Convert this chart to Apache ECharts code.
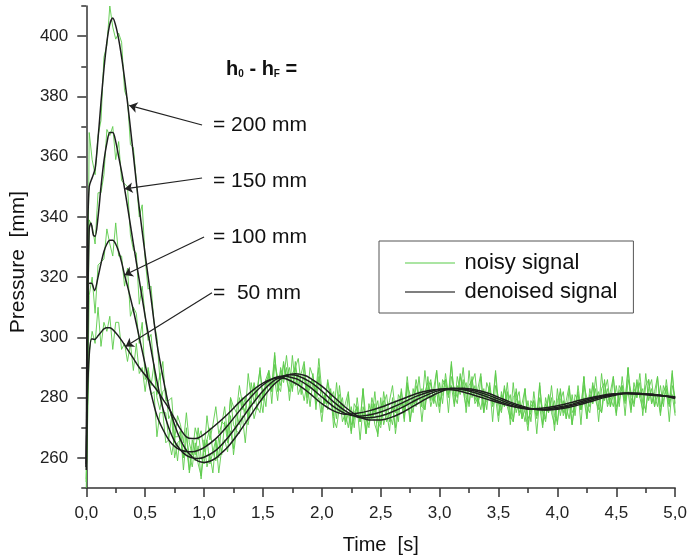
<!DOCTYPE html>
<html><head><meta charset="utf-8">
<script src="https://cdn.jsdelivr.net/npm/echarts@6/dist/echarts.min.js"></script>
<style>html,body{margin:0;padding:0;background:#fff}#c{width:690px;height:560px}</style>
</head><body><div id="c"></div>
<script>
// sampling step (s) of the noisy signals
const tStep = 0.025;

const noisy200 = [252,368,359,354,367,372,393,397,410,403,
 399,401,398,382,379,364,363,352,340,344,
 326,316,317,305,300,286,292,279,279,280,
 267,267,269,256,267,261,257,265,258,254,
 266,257,261,255,266,255,263,266,262,274,
 261,269,268,274,265,276,279,273,277,275,
 283,277,288,282,286,279,290,286,294,285,
 283,290,293,284,287,280,290,287,282,293,
 282,278,286,280,282,273,284,275,278,282,
 271,273,277,266,277,273,270,278,271,268,
 280,271,275,269,280,268,276,278,273,285,
 272,279,277,282,272,282,285,277,281,277,
 285,278,288,281,284,277,287,282,290,280,
 278,285,288,278,282,275,285,282,278,289,
 278,275,283,278,281,272,283,275,278,283,
 273,275,279,268,280,276,273,281,275,271,
 283,274,279,273,283,271,278,281,276,287,
 273,281,278,283,272,283,285,277,280,277,
 284,277,287,279,282,275,285,280,288,278,
 276,283,286,277,281,274,284,281,277,288,
 278];

const noisy150 = [250,339,337,331,348,348,354,369,367,370,
 359,365,352,351,350,334,329,328,311,317,
 307,299,301,290,281,288,275,275,266,274,
 260,265,266,260,270,255,262,259,264,253,
 263,266,258,262,259,267,261,272,265,269,
 263,275,271,280,272,271,279,284,276,281,
 275,286,285,282,294,284,282,291,287,290,
 282,292,284,288,292,282,283,288,276,287,
 282,278,285,279,274,285,275,278,272,281,
 269,275,277,272,283,268,275,273,278,267,
 277,279,272,275,271,279,272,283,275,279,
 272,283,278,287,277,276,283,286,278,282,
 275,286,284,280,291,281,278,287,282,285,
 277,287,279,283,288,277,279,284,272,284,
 280,276,284,277,273,285,275,279,273,283,
 271,277,279,274,285,271,278,275,280,269,
 279,282,274,277,273,281,274,284,276,280,
 273,283,278,287,277,275,282,286,277,281,
 274,284,282,278,290,280,277,285,280,283,
 275,286,278,282,287,277,279,283,272,284,
 280];

const noisy100 = [253,314,320,308,324,325,326,336,331,327,
 338,327,327,317,323,307,310,308,298,305,
 286,289,281,282,267,275,275,265,266,261,
 267,259,269,260,263,256,266,261,270,260,
 258,266,270,262,266,260,272,271,268,280,
 271,269,280,276,280,273,285,278,283,289,
 280,283,289,278,291,287,284,292,286,282,
 294,284,288,281,291,278,285,286,280,290,
 275,281,278,282,270,279,281,272,275,270,
 277,270,280,272,275,268,278,273,282,272,
 270,278,281,272,277,270,281,279,276,287,
 278,275,284,280,283,276,287,279,283,289,
 279,281,286,275,287,283,280,288,282,277,
 289,280,284,277,287,275,281,283,278,288,
 274,281,277,282,271,280,282,274,277,272,
 279,272,282,274,277,270,280,275,284,274,
 272,279,282,273,278,271,281,279,276,287,
 277,275,284,279,282,275,286,278,282,287,
 277,279,284,274,286,282,278,286,280,276,
 288,279,283,277,287,275,282,284,278,289,
 275];

const noisy50 = [252,295,302,298,310,297,305,302,307,296,
 305,305,296,298,292,298,289,298,288,290,
 282,290,284,291,280,276,282,283,273,275,
 266,274,271,265,275,265,261,270,266,269,
 262,274,266,271,277,268,271,277,267,280,
 277,275,284,278,275,288,280,285,280,290,
 279,286,289,284,295,282,289,285,290,279,
 288,290,281,284,279,285,277,286,278,280,
 272,281,276,283,273,270,277,280,271,275,
 268,278,276,272,283,273,271,280,275,279,
 271,282,275,279,284,275,277,282,272,284,
 281,278,286,281,277,289,280,285,279,289,
 277,284,286,281,292,278,284,281,286,275,
 284,286,278,280,276,283,276,285,277,280,
 272,282,277,285,274,272,279,282,273,276,
 269,279,277,273,284,275,272,281,276,279,
 271,283,275,279,284,275,277,282,271,284,
 280,277,285,279,276,288,279,283,277,287,
 275,282,284,279,290,276,283,280,285,274,
 284,286,278,281,277,284,277,286,278,281,
 274];

const den200 = [[0,256],[0.01,330],[0.025,350],[0.05,353],[0.075,356],[0.1,366],[0.125,378],[0.15,389],[0.175,398],[0.2,404],[0.225,406],[0.25,403.5],[0.275,399],[0.3,393],[0.325,386],[0.35,378],[0.375,369.5],[0.4,360.5],[0.425,351.5],[0.45,343],[0.5,327.5],[0.55,313],[0.6,298],[0.65,287],[0.7,277.5],[0.75,271],[0.8,266],[0.85,262.5],[0.9,260.3],[0.95,258.9],[1.0,258.5],[1.05,258.9],[1.1,259.9],[1.15,261.7],[1.2,263.5],[1.3,268.6],[1.4,274.4],[1.5,280],[1.6,284.6],[1.7,287.3],[1.775,287.9],[1.85,287.4],[1.9,286.5],[2.0,283.8],[2.1,280.3],[2.2,276.8],[2.3,274],[2.4,272.6],[2.5,272.6],[2.6,273.6],[2.7,275.4],[2.8,277.7],[2.9,279.9],[3.0,281.8],[3.1,283],[3.2,283.1],[3.3,282.6],[3.4,281.6],[3.5,280.1],[3.6,278.5],[3.7,277.2],[3.8,276.2],[3.9,275.9],[4.0,276.1],[4.1,276.8],[4.2,277.8],[4.3,278.9],[4.4,280],[4.5,280.9],[4.6,281.4],[4.7,281.4],[4.8,281.1],[4.9,280.6],[5.0,279.7]];

const den150 = [[0,257],[0.01,300],[0.025,336],[0.04,338],[0.06,334],[0.075,333.5],[0.1,340],[0.125,350],[0.15,358.5],[0.175,364.5],[0.2,368],[0.225,368],[0.25,365],[0.275,360],[0.3,355],[0.325,349.5],[0.35,343.5],[0.4,331],[0.45,319],[0.5,307],[0.55,296],[0.6,285.5],[0.65,276.5],[0.7,270],[0.75,265.5],[0.8,262.6],[0.85,260.8],[0.9,260],[0.95,259.8],[1.0,260.2],[1.1,262.5],[1.2,266.6],[1.3,271.8],[1.4,277.3],[1.5,282.2],[1.6,285.8],[1.7,287.5],[1.725,287.6],[1.8,287.2],[1.9,285.2],[2.0,282.2],[2.1,278.6],[2.2,275.6],[2.3,273.6],[2.4,273.3],[2.5,273.9],[2.6,275.3],[2.7,277.1],[2.8,279.2],[2.9,281],[3.0,282.4],[3.1,283],[3.2,282.9],[3.3,282.2],[3.4,281],[3.5,279.5],[3.6,278],[3.7,276.8],[3.8,276.1],[3.9,276],[4.0,276.4],[4.1,277.2],[4.2,278.2],[4.3,279.4],[4.4,280.4],[4.5,281.1],[4.6,281.5],[4.7,281.4],[4.8,281.1],[4.9,280.6],[5.0,279.9]];

const den100 = [[0,257],[0.01,290],[0.025,318],[0.045,318],[0.07,315.5],[0.1,320],[0.125,324.5],[0.15,328.5],[0.175,331],[0.2,332.2],[0.225,332.2],[0.25,331],[0.275,328.5],[0.3,325],[0.325,320.7],[0.35,317],[0.4,309],[0.45,300],[0.5,291],[0.55,281.5],[0.6,274],[0.65,269.5],[0.7,266],[0.75,263.8],[0.8,262.6],[0.85,262.1],[0.9,262],[0.95,262.5],[1.0,263.4],[1.1,266.4],[1.2,270.7],[1.3,275.6],[1.4,280.3],[1.5,284.2],[1.6,286.6],[1.675,287.2],[1.75,286.6],[1.8,286],[1.9,283.5],[2.0,280.2],[2.1,277],[2.2,274.7],[2.3,273.8],[2.4,274.2],[2.5,275.2],[2.6,276.8],[2.7,278.6],[2.8,280.4],[2.9,281.8],[3.0,282.8],[3.1,283],[3.2,282.6],[3.3,281.6],[3.4,280.3],[3.5,278.8],[3.6,277.5],[3.7,276.5],[3.8,276.1],[3.9,276.2],[4.0,276.8],[4.1,277.6],[4.2,278.7],[4.3,279.8],[4.4,280.7],[4.5,281.3],[4.6,281.5],[4.7,281.3],[4.8,281],[4.9,280.6],[5.0,280.1]];

const den50 = [[0,258],[0.01,280],[0.025,294],[0.045,299.5],[0.07,299.3],[0.1,300.5],[0.125,301.7],[0.15,302.8],[0.175,303.2],[0.2,303.2],[0.25,301.5],[0.3,299],[0.35,296],[0.4,293],[0.45,290],[0.5,287.5],[0.55,285],[0.6,282.5],[0.65,279.5],[0.7,276.5],[0.75,273],[0.8,269.5],[0.85,267],[0.9,266.4],[0.95,266.6],[1.0,267.8],[1.1,271],[1.2,274.5],[1.3,278.5],[1.4,282],[1.5,284.8],[1.6,286.4],[1.65,286.5],[1.7,286.2],[1.8,284.2],[1.9,281.3],[2.0,278],[2.1,275.6],[2.2,274.5],[2.3,274.8],[2.4,275.6],[2.5,276.8],[2.6,278.3],[2.7,279.8],[2.8,281.3],[2.9,282.3],[3.0,282.8],[3.1,282.6],[3.2,281.9],[3.3,280.7],[3.4,279.5],[3.5,278.3],[3.6,277.2],[3.7,276.5],[3.8,276.3],[3.9,276.6],[4.0,277.3],[4.1,278.2],[4.2,279.2],[4.3,280.1],[4.4,280.9],[4.5,281.3],[4.55,281.4],[4.6,281.3],[4.7,281.1],[4.8,280.8],[4.9,280.5],[5.0,280.3]];

const yMajorTicks = [260,280,300,320,340,360,380,400];
const yMinorTicks = [250,270,290,310,330,350,370,390,410];

// annotation arrows: label, text anchor (data coords), arrow start, arrow tip
const arrowLabels = ['= 200 mm','= 150 mm','= 100 mm','=  50 mm'];
const arrowFrom = [[0.983,370.5],[0.983,352.9],[1.0,333.3],[1.067,314.8]];
const arrowTo = [[0.365,377],[0.326,349.3],[0.326,320.7],[0.334,297.0]];
const labelAnchor = [[1.076,370.5],[1.076,351.9],[1.076,333.3],[1.076,314.8]];
const headerAnchor = [1.187,389.7];

const FONT = 'Liberation Sans, Arial, Helvetica, sans-serif';
const GREEN = '#5ccb4a';
const DARK = '#1e1e1e';
const LINE_ICON = 'path://M0,0H100V3H0Z';

const toXY = arr => arr.map((v, i) => [+(i * tStep).toFixed(3), v]);

const noisySeries = [noisy200, noisy150, noisy100, noisy50].map(d => ({
  type: 'line', name: 'noisy signal', data: toXY(d), symbol: 'none',
  color: GREEN, lineStyle: { color: GREEN, width: 1, opacity: 0.9 },
  z: 2, silent: true, animation: false
}));
const denSeries = [den200, den150, den100, den50].map(d => ({
  type: 'line', name: 'denoised signal', data: d, symbol: 'none', smooth: 0.3,
  color: '#444', lineStyle: { color: DARK, width: 1.5 },
  z: 4, silent: true, animation: false
}));
denSeries[3].markLine = {
  silent: true, animation: false,
  symbol: ['none', 'arrow'], symbolSize: 8,
  lineStyle: { color: '#222', width: 1.2, type: 'solid' },
  label: { show: false },
  data: arrowFrom.map((f, i) => [{ coord: f }, { coord: arrowTo[i] }])
};

const chart = echarts.init(document.getElementById('c'), null, { renderer: 'canvas' });
chart.setOption({
  animation: false,
  backgroundColor: '#fff',
  grid: { left: 83, right: 13, top: 6, bottom: 71, containLabel: false },
  legend: {
    data: [
      { name: 'noisy signal', icon: LINE_ICON, itemStyle: { color: '#8fdc84' } },
      { name: 'denoised signal', icon: LINE_ICON, itemStyle: { color: '#555' } }
    ],
    orient: 'vertical', left: 379, top: 241,
    padding: [11, 16, 10, 26], itemGap: 7, itemWidth: 53, itemHeight: 1.5,
    borderColor: '#555', borderWidth: 1,
    textStyle: { fontFamily: FONT, fontSize: 22, color: '#111', lineHeight: 22, padding: [0, 0, 0, 3] },
    selectedMode: false
  },
  xAxis: {
    type: 'value', min: 0, max: 5, interval: 0.5,
    name: 'Time  [s]', nameLocation: 'middle', nameGap: 47,
    nameTextStyle: { fontFamily: FONT, fontSize: 20, color: '#111' },
    axisLine: { lineStyle: { color: '#333', width: 1.5 } },
    axisTick: { length: 9, lineStyle: { color: '#333', width: 1.5 } },
    minorTick: { show: true, splitNumber: 2, length: 5, lineStyle: { color: '#333', width: 1.5 } },
    splitLine: { show: false }, minorSplitLine: { show: false },
    axisLabel: { fontFamily: FONT, fontSize: 17, color: '#222', margin: 17,
      formatter: v => v.toFixed(1).replace('.', ',') }
  },
  yAxis: [{
    type: 'value', min: 250, max: 410, interval: 10,
    name: 'Pressure  [mm]', nameLocation: 'middle', nameGap: 56, nameRotate: 90,
    nameTextStyle: { fontFamily: FONT, fontSize: 21, color: '#111', padding: [0, 30, 0, 0] },
    axisLine: { show: true, lineStyle: { color: '#333', width: 1.5 } },
    axisTick: { show: true, length: 9, customValues: yMajorTicks, lineStyle: { color: '#333', width: 1.5 } },
    axisLabel: { fontFamily: FONT, fontSize: 17, color: '#222', margin: 18, customValues: yMajorTicks },
    splitLine: { show: false }
  }, {
    type: 'value', min: 250, max: 410, interval: 10, position: 'left',
    axisLine: { show: false },
    axisTick: { show: true, length: 5, customValues: yMinorTicks, lineStyle: { color: '#333', width: 1.5 } },
    axisLabel: { show: false }, splitLine: { show: false }
  }],
  series: [...noisySeries, ...denSeries]
});

const px = p => chart.convertToPixel({ gridIndex: 0 }, p);
const graphics = arrowLabels.map((txt, i) => {
  const p = px(labelAnchor[i]);
  return { type: 'text', x: p[0], y: p[1], z: 10, silent: true,
    style: { text: txt, font: '21px ' + FONT, fill: '#111', verticalAlign: 'middle' } };
});
const hp = px(headerAnchor);
graphics.push({ type: 'text', x: hp[0], y: hp[1], z: 10, silent: true,
  style: {
    text: '{b|h}{s|0}{b| - h}{s|F}{b| =}', verticalAlign: 'middle',
    rich: {
      b: { fontFamily: FONT, fontSize: 20, fontWeight: 'bold', fill: '#111', lineHeight: 24, verticalAlign: 'bottom' },
      s: { fontFamily: FONT, fontSize: 10, fontWeight: 'bold', fill: '#111', lineHeight: 18, verticalAlign: 'bottom' }
    }
  } });
chart.setOption({ graphic: graphics });
</script></body></html>
